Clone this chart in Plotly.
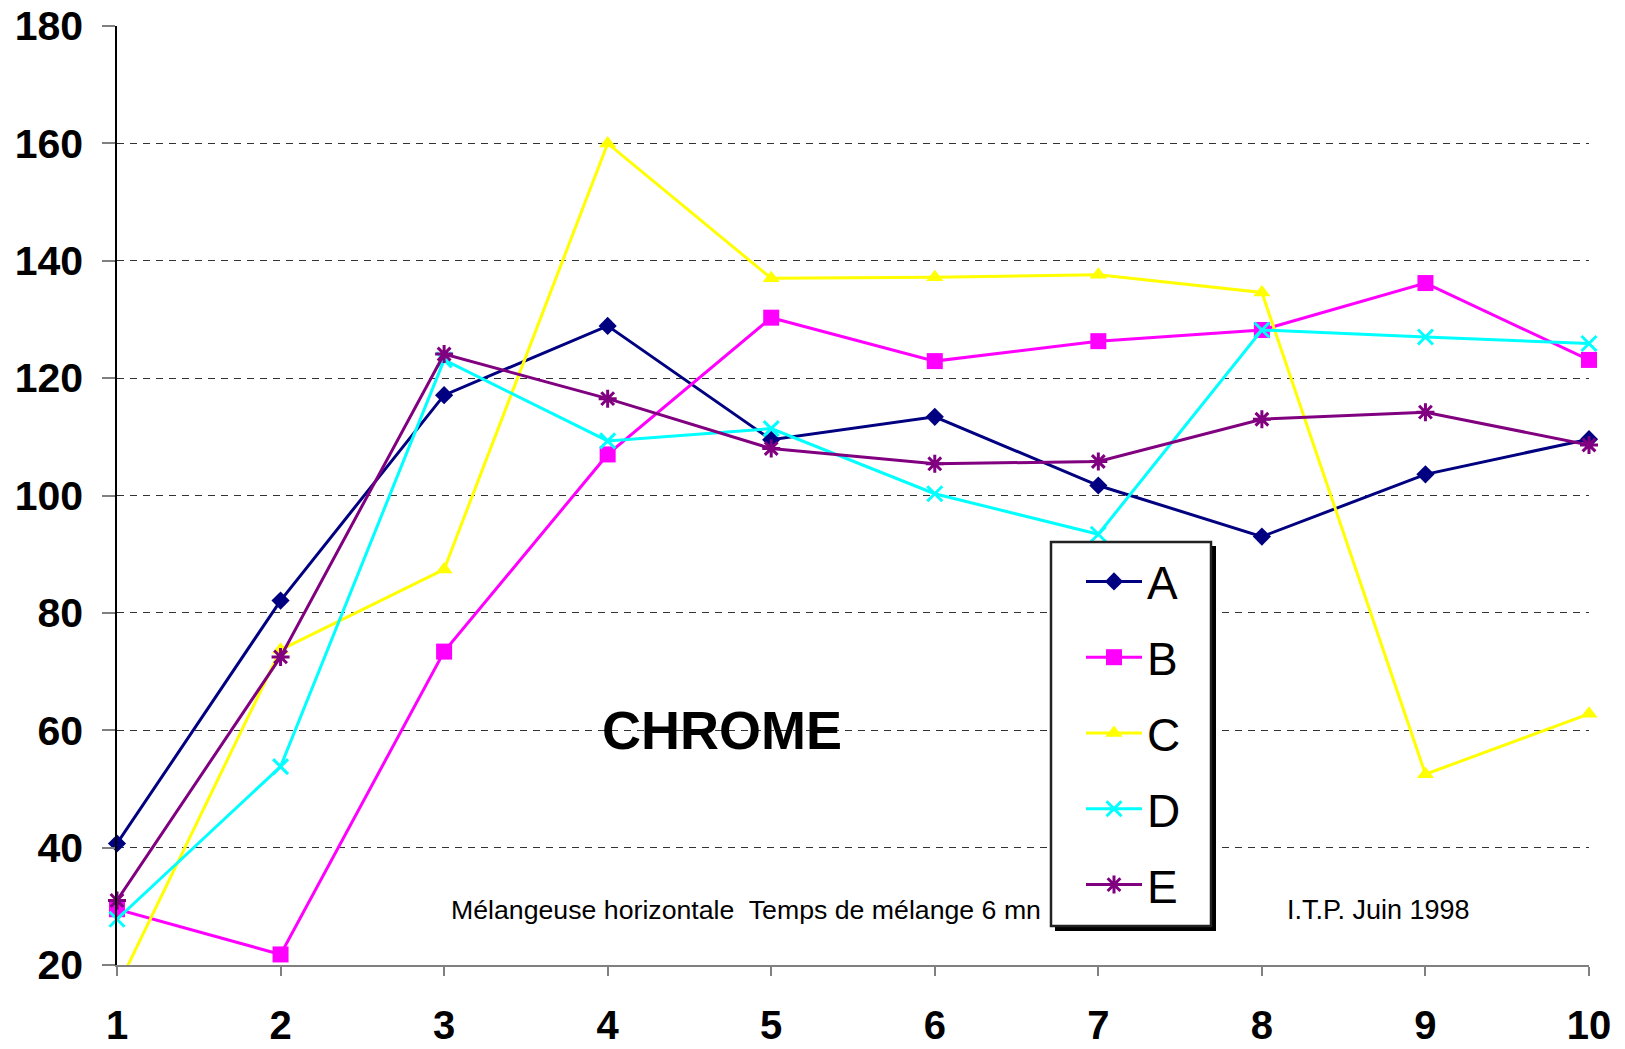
import plotly.graph_objects as go

# Sample positions along the mixer and chromium readings per series
positions = [1, 2, 3, 4, 5, 6, 7, 8, 9, 10]
series_names = ["A", "B", "C", "D", "E"]
values_a = [40.7, 82.1, 117.1, 128.9, 109.5, 113.4, 101.7, 93.0, 103.6, 109.6]
values_b = [29.5, 21.8, 73.4, 107.0, 130.3, 122.9, 126.3, 128.2, 136.2, 123.1]
values_c = [16.1, 73.7, 87.4, 160.0, 137.0, 137.2, 137.6, 134.6, 52.5, 62.8]
values_d = [27.8, 53.8, 123.1, 109.3, 111.4, 100.3, 93.4, 128.2, 127.0, 125.9]
values_e = [31.0, 72.5, 124.1, 116.5, 108.0, 105.4, 105.8, 113.0, 114.2, 108.6]
y_ticks = [20, 40, 60, 80, 100, 120, 140, 160, 180]

Y_MIN, Y_MAX = 20, 180
FONT = "Liberation Sans, Arial, sans-serif"

styles = [
    dict(color="#000080", symbol="diamond", size=14, lw=0),
    dict(color="#FF00FF", symbol="square", size=16, lw=0),
    dict(color="#FFFF00", symbol="triangle-up", size=15, lw=0),
    dict(color="#00FFFF", symbol="x-thin-open", size=15, lw=3),
    dict(color="#800080", symbol="asterisk-open", size=15, lw=3),
]
all_values = [values_a, values_b, values_c, values_d, values_e]

fig = go.Figure()
for name, vals, st in zip(series_names, all_values, styles):
    # points outside the value axis keep their line but lose their marker
    in_range = [i for i, v in enumerate(vals) if Y_MIN <= v <= Y_MAX]
    fig.add_trace(go.Scatter(
        x=positions, y=vals, name=name, mode="lines+markers",
        legendgroup=name,
        line=dict(color=st["color"], width=3),
        marker=dict(symbol=st["symbol"], size=st["size"], color=st["color"],
                    line=dict(color=st["color"], width=st["lw"])),
        selectedpoints=in_range,
        selected=dict(marker=dict(opacity=1)),
        unselected=dict(marker=dict(opacity=0)),
        cliponaxis=False,
    ))

L, R, T, B = 117, 36, 26, 84
W, H = 1625, 1049
pw, ph = W - L - R, H - T - B

def px_x(p):
    return (p - L) / pw

def px_y(p):
    return (H - B - p) / ph

# legend frame: drop shadow, then white box with a dark border
fig.add_shape(type="rect", xref="paper", yref="paper", layer="above",
              x0=px_x(1055), x1=px_x(1216), y0=px_y(931), y1=px_y(546),
              fillcolor="black", line=dict(width=0))
fig.add_shape(type="rect", xref="paper", yref="paper", layer="above",
              x0=px_x(1051), x1=px_x(1211), y0=px_y(926), y1=px_y(542),
              fillcolor="white", line=dict(color="#222222", width=2.5))

fig.add_annotation(x=4.7, y=60, xref="x", yref="y", text="<b>CHROME</b>",
                   showarrow=False, font=dict(family=FONT, size=54, color="black"))
fig.add_annotation(x=3.03, y=29.4, xref="x", yref="y", xanchor="left",
                   text="Mélangeuse horizontale\u00a0 Temps de mélange 6 mn",
                   showarrow=False, font=dict(family=FONT, size=26.7, color="black"))
fig.add_annotation(x=8.14, y=29.4, xref="x", yref="y", xanchor="left",
                   text="I.T.P. Juin 1998",
                   showarrow=False, font=dict(family=FONT, size=27, color="black"))

fig.update_layout(
    width=W, height=H,
    margin=dict(l=L, r=R, t=T, b=B, autoexpand=False),
    paper_bgcolor="white", plot_bgcolor="white",
    font=dict(family=FONT, color="black"),
    legend=dict(
        x=px_x(1081), y=px_y(545), xanchor="left", yanchor="top",
        bgcolor="rgba(0,0,0,0)", borderwidth=0,
        font=dict(family=FONT, size=46, color="black"),
        tracegroupgap=13, itemwidth=56,
    ),
    showlegend=True,
)
fig.update_xaxes(
    range=[1, 10], tickvals=positions, ticktext=[str(p) for p in positions],
    showgrid=False, zeroline=False, automargin=False,
    showline=True, linecolor="#808080", linewidth=1.5,
    ticks="outside", ticklen=9, tickcolor="#808080", tickwidth=1.5,
    tickfont=dict(family=FONT, size=40, color="black", weight="bold"),
    ticklabelstandoff=15,
)
fig.update_yaxes(
    range=[Y_MIN, Y_MAX], tickvals=y_ticks,
    showgrid=True, gridcolor="#333333", gridwidth=1, griddash="7px,6px",
    zeroline=False, automargin=False,
    showline=True, linecolor="black", linewidth=1.5,
    ticks="outside", ticklen=13, tickcolor="#808080", tickwidth=1.5,
    tickfont=dict(family=FONT, size=41, color="black", weight="bold"),
    ticklabelstandoff=11,
)

fig.write_html("out.html")
